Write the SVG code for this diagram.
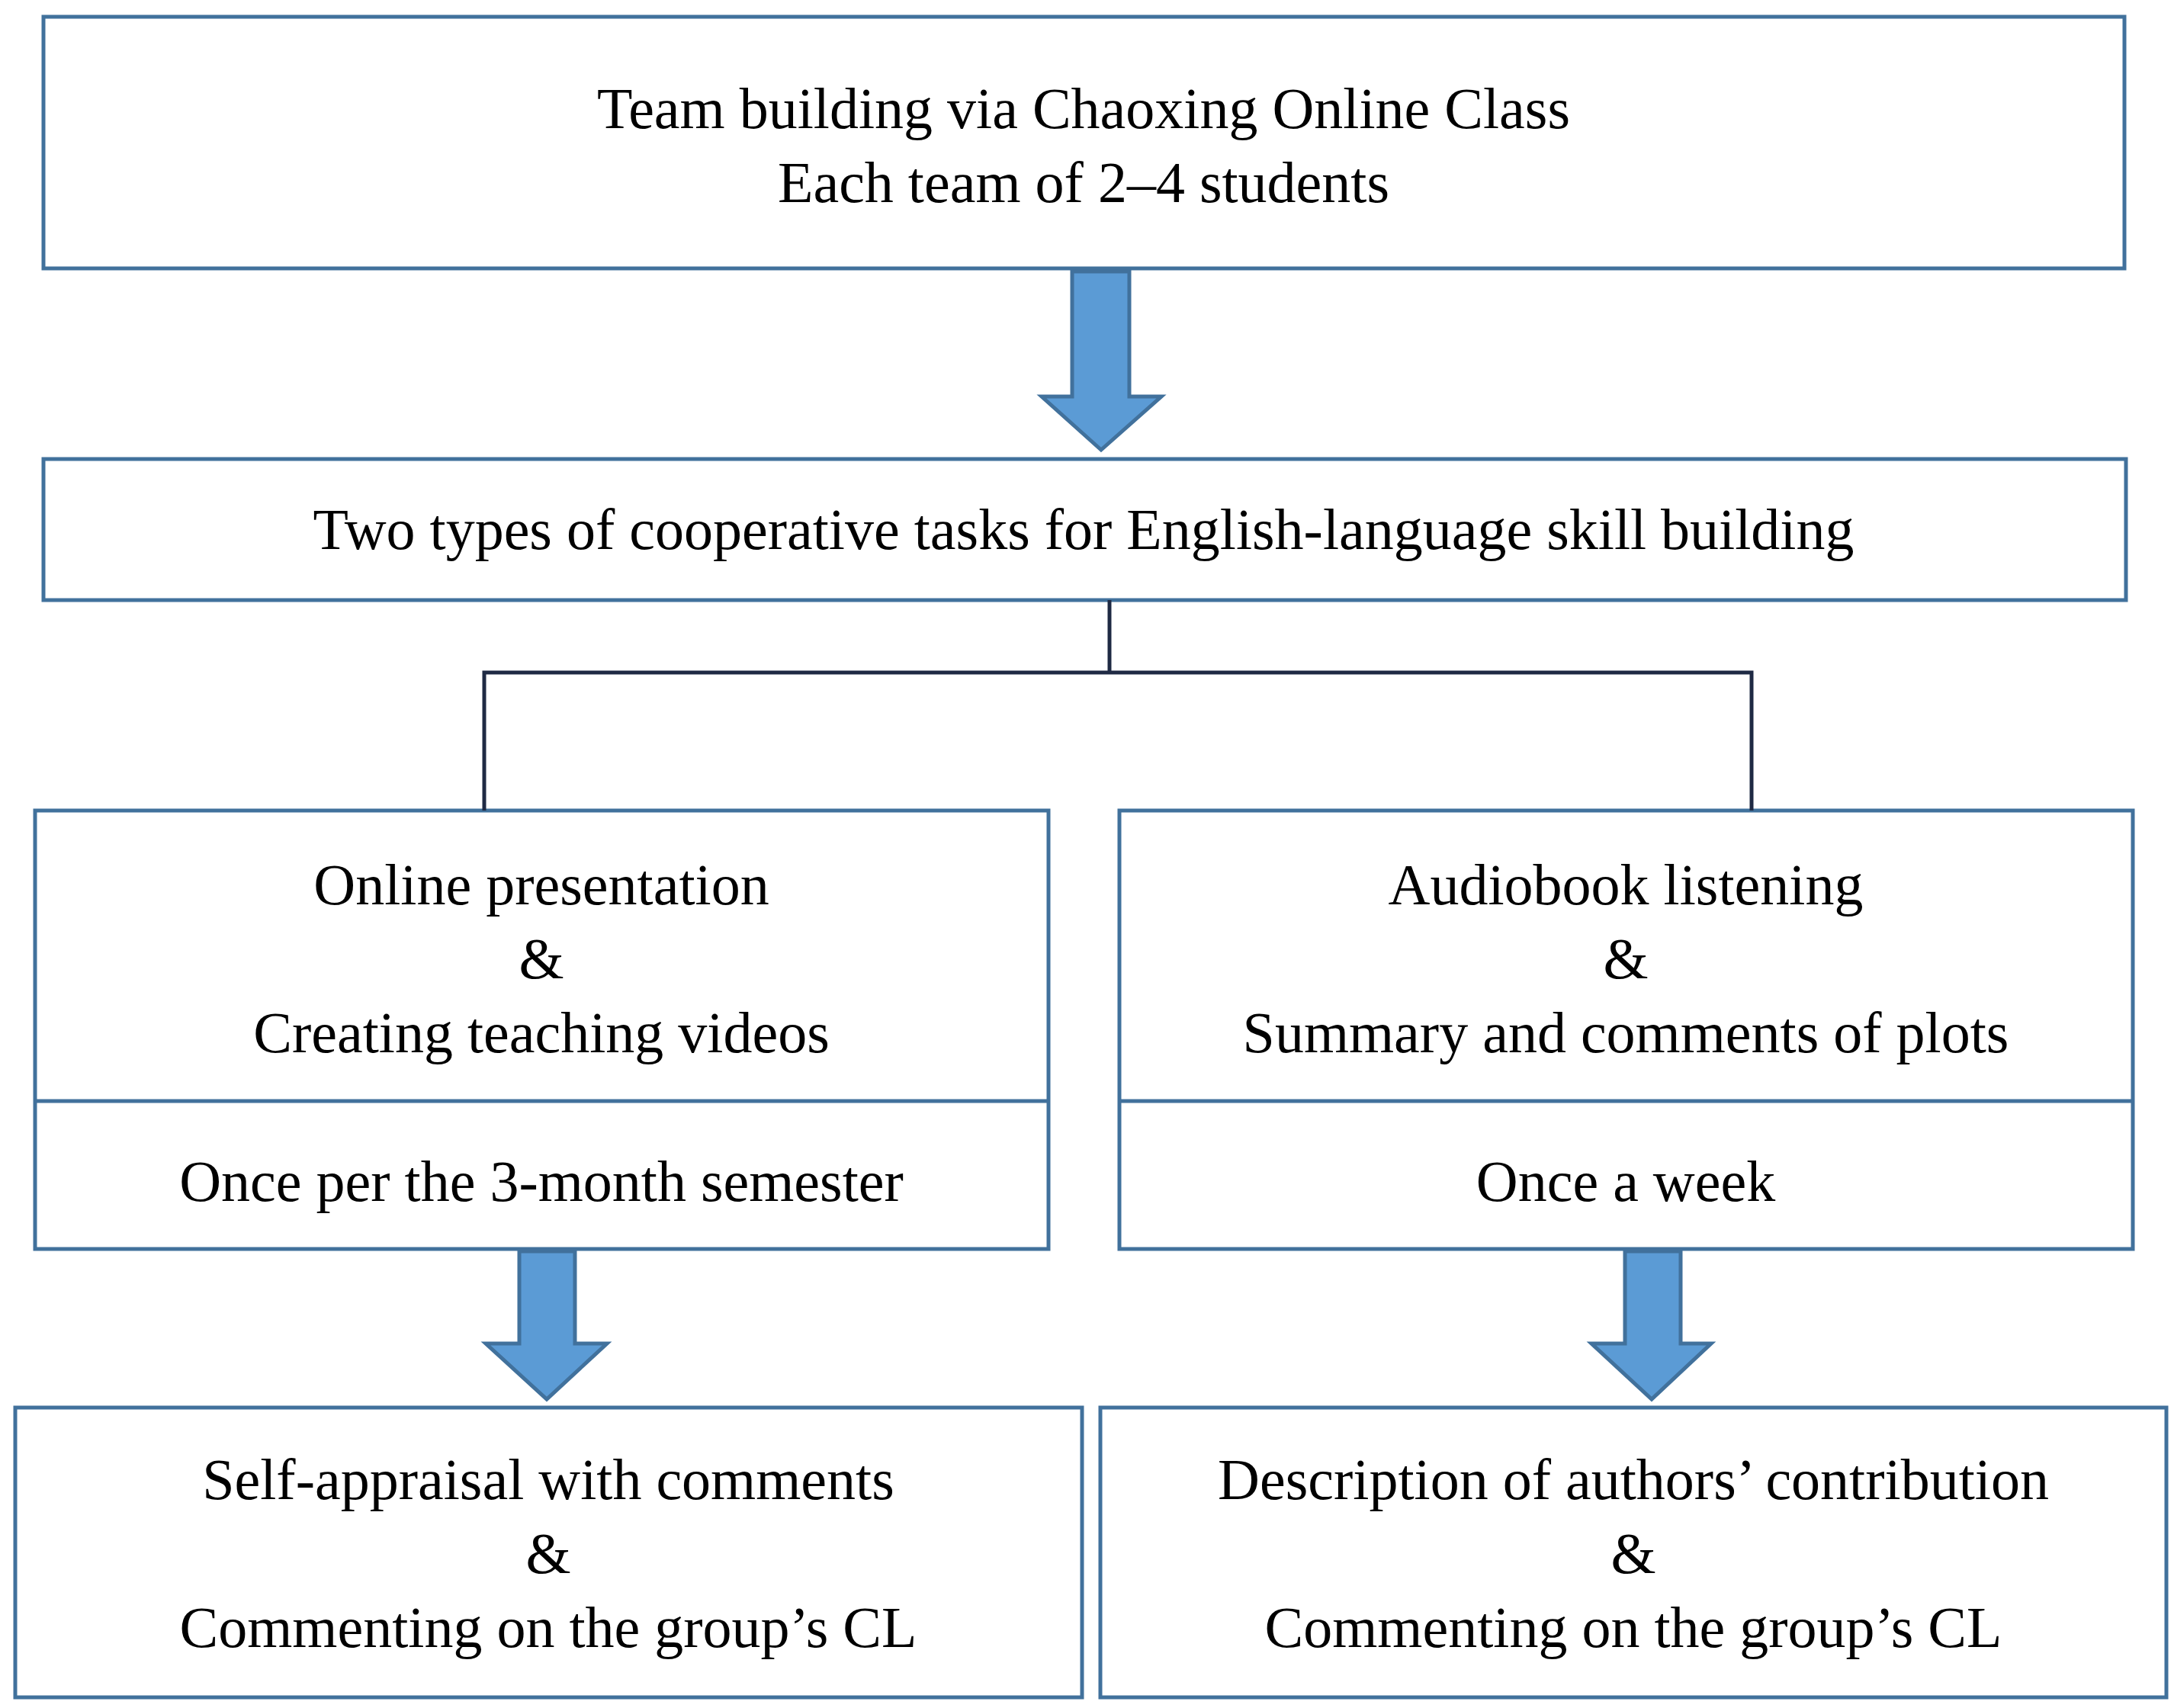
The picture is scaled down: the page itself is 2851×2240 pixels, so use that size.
<svg xmlns="http://www.w3.org/2000/svg" width="2851" height="2240" viewBox="0 0 2851 2240">
<style>
.box{fill:#fff;stroke:#41719C;stroke-width:5}
.arr{fill:#5B9BD5;stroke:#41719C;stroke-width:5;stroke-linejoin:miter}
.con{fill:none;stroke:#1F2A44;stroke-width:5}
text{font-family:"Liberation Serif","Times New Roman",serif;font-size:76px;text-anchor:middle;fill:#000}
</style>
<rect width="2851" height="2240" fill="#fff"/>
<g id="top"><rect class="box" x="57" y="22" width="2729" height="330"/>
<text x="1421" y="168">Team building via Chaoxing Online Class</text>
<text x="1421" y="265">Each team of 2–4 students</text></g>
<g id="types"><rect class="box" x="57" y="602" width="2731" height="185"/>
<text x="1421" y="720">Two types of cooperative tasks for English-language skill building</text></g>
<g id="left"><rect class="box" x="46" y="1063" width="1329" height="575"/>
<line class="box" x1="46" y1="1444" x2="1375" y2="1444"/>
<text x="710" y="1186">Online presentation</text>
<text x="710" y="1283">&amp;</text>
<text x="710" y="1380">Creating teaching videos</text>
<text x="710" y="1575">Once per the 3-month semester</text></g>
<g id="right"><rect class="box" x="1468" y="1063" width="1329" height="575"/>
<line class="box" x1="1468" y1="1444" x2="2797" y2="1444"/>
<text x="2132" y="1186">Audiobook listening</text>
<text x="2132" y="1283">&amp;</text>
<text x="2132" y="1380">Summary and comments of plots</text>
<text x="2132" y="1575">Once a week</text></g>
<g id="bl"><rect class="box" x="20" y="1846" width="1399" height="380"/>
<text x="719" y="1966">Self-appraisal with comments</text>
<text x="719" y="2063">&amp;</text>
<text x="719" y="2160">Commenting on the group’s CL</text></g>
<g id="br"><rect class="box" x="1443" y="1846" width="1398" height="380"/>
<text x="2142" y="1966">Description of authors’ contribution</text>
<text x="2142" y="2063">&amp;</text>
<text x="2142" y="2160">Commenting on the group’s CL</text></g>
<g id="connectors">
<polygon class="arr" points="1406,356 1481,356 1481,520 1523,520 1444,590 1366,520 1406,520"/>
<polyline class="con" points="1455,787 1455,882"/>
<polyline class="con" points="635,1063 635,882 2297,882 2297,1063"/>
<polygon class="arr" points="681,1641 754,1641 754,1762 796,1762 717,1835 637,1762 681,1762"/>
<polygon class="arr" points="2131,1641 2204,1641 2204,1762 2244,1762 2166,1835 2087,1762 2131,1762"/>
</g>
</svg>
